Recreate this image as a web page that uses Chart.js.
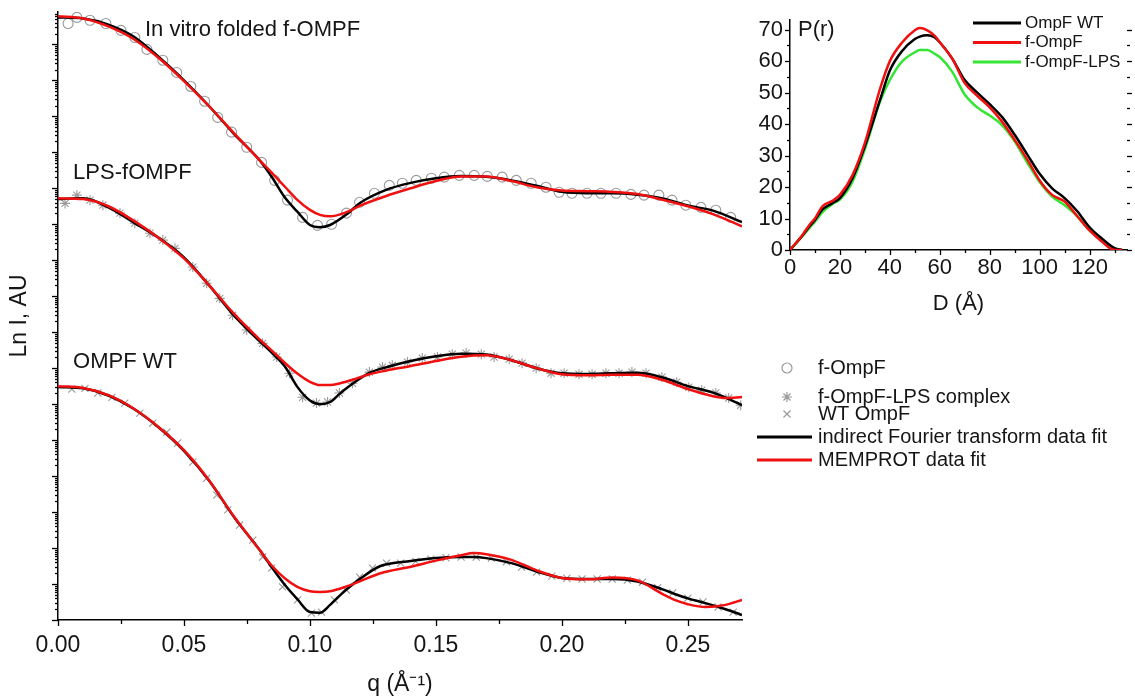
<!DOCTYPE html>
<html>
<head>
<meta charset="utf-8">
<script src="https://cdn.jsdelivr.net/npm/chart.js@4.4.0/dist/chart.umd.min.js"></script>
<style>
  html, body { margin: 0; padding: 0; background: #fff; }
  #wrap { position: relative; width: 1135px; height: 700px; overflow: hidden; }
  #mainChart { position: absolute; left: 0; top: 0; }
  #insetChart { position: absolute; left: 740px; top: 0; }
</style>
</head>
<body>
<div id="wrap">
  <canvas id="mainChart" width="1135" height="700"></canvas>
  <canvas id="insetChart" width="395" height="320"></canvas>
</div>
<script>
// ---------- SAXS curves: q (1/Å) vs ln I (offset per sample) ----------
const qTicks = [0, 0.05, 0.10, 0.15, 0.20, 0.25];
const qMinorTicks = [0.025, 0.075, 0.125, 0.175, 0.225];

// f-OmpF (circles)
const qTopPts = [0.0040, 0.0075, 0.0127, 0.0190, 0.0250, 0.0305, 0.0353, 0.0416, 0.0471, 0.0527, 0.0582, 0.0634, 0.0689, 0.0749, 0.0808, 0.0860, 0.0911, 0.0971, 0.1030, 0.1086, 0.1145, 0.1197, 0.1256, 0.1315, 0.1367, 0.1422, 0.1482, 0.1533, 0.1593, 0.1652, 0.1704, 0.1763, 0.1819, 0.1878, 0.1937, 0.1989, 0.2040, 0.2100, 0.2155, 0.2215, 0.2274, 0.2326, 0.2385, 0.2437, 0.2492, 0.2552, 0.2611, 0.2670];
const lnTopPts = [16.58, 16.75, 16.67, 16.58, 16.39, 16.19, 15.86, 15.56, 15.22, 14.83, 14.42, 13.97, 13.56, 13.14, 12.72, 12.22, 11.67, 11.19, 10.97, 11.00, 11.31, 11.61, 11.86, 12.08, 12.14, 12.22, 12.28, 12.31, 12.36, 12.36, 12.33, 12.31, 12.22, 12.14, 12.03, 11.89, 11.86, 11.86, 11.86, 11.86, 11.83, 11.81, 11.81, 11.67, 11.53, 11.47, 11.39, 11.19];
const qTopFit = [0, 0.01, 0.02, 0.03, 0.04, 0.05, 0.06, 0.07, 0.08, 0.085, 0.09, 0.095, 0.1, 0.104, 0.108, 0.115, 0.12, 0.13, 0.14, 0.15, 0.16, 0.17, 0.18, 0.19, 0.2, 0.21, 0.22, 0.23, 0.24, 0.25, 0.26, 0.2715];
const topIft = [16.75, 16.72, 16.55, 16.22, 15.65, 15.0, 14.28, 13.5, 12.78, 12.3, 11.75, 11.35, 10.98, 10.92, 10.98, 11.3, 11.6, 11.95, 12.15, 12.28, 12.34, 12.32, 12.22, 12.07, 11.9, 11.86, 11.86, 11.82, 11.72, 11.52, 11.38, 11.06];
const topMemprot = [16.78, 16.72, 16.5, 16.15, 15.62, 14.98, 14.28, 13.52, 12.78, 12.42, 12.05, 11.68, 11.4, 11.26, 11.22, 11.35, 11.52, 11.78, 12.0, 12.2, 12.33, 12.33, 12.2, 12.03, 11.94, 11.92, 11.9, 11.84, 11.68, 11.5, 11.28, 10.94];

// f-OmpF-LPS complex (asterisks)
const qLpsPts = [0.0028, 0.0075, 0.0127, 0.0178, 0.0246, 0.0305, 0.0365, 0.0416, 0.0464, 0.0535, 0.0590, 0.0642, 0.0693, 0.0749, 0.0812, 0.0868, 0.0919, 0.0971, 0.1026, 0.1070, 0.1117, 0.1169, 0.1236, 0.1288, 0.1327, 0.1387, 0.1446, 0.1506, 0.1565, 0.1620, 0.1680, 0.1731, 0.1791, 0.1842, 0.1898, 0.1957, 0.2009, 0.2068, 0.2120, 0.2175, 0.2227, 0.2278, 0.2334, 0.2397, 0.2456, 0.2504, 0.2555, 0.2611, 0.2662, 0.2710];
const lnLpsPts = [11.58, 11.81, 11.67, 11.53, 11.31, 11.03, 10.75, 10.56, 10.33, 9.81, 9.36, 8.94, 8.47, 8.06, 7.69, 7.31, 6.86, 6.19, 6.03, 6.06, 6.31, 6.58, 6.89, 7.03, 7.08, 7.17, 7.28, 7.31, 7.39, 7.42, 7.39, 7.31, 7.25, 7.14, 7.0, 6.86, 6.86, 6.83, 6.83, 6.86, 6.86, 6.89, 6.86, 6.75, 6.61, 6.47, 6.39, 6.31, 6.17, 5.97];
const qLpsFit = [0, 0.01, 0.02, 0.03, 0.04, 0.05, 0.06, 0.07, 0.08, 0.085, 0.09, 0.095, 0.1, 0.104, 0.108, 0.112, 0.118, 0.124, 0.13, 0.14, 0.15, 0.16, 0.17, 0.18, 0.19, 0.2, 0.21, 0.22, 0.23, 0.24, 0.25, 0.26, 0.265, 0.2715];
const lpsIft = [11.7, 11.72, 11.47, 11.05, 10.62, 10.08, 9.3, 8.45, 7.75, 7.42, 7.05, 6.48, 6.1, 6.0, 6.06, 6.3, 6.62, 6.88, 7.02, 7.2, 7.33, 7.4, 7.38, 7.22, 7.0, 6.86, 6.84, 6.86, 6.87, 6.74, 6.5, 6.32, 6.18, 5.97];
const lpsMemprot = [11.72, 11.7, 11.5, 11.1, 10.62, 10.05, 9.3, 8.5, 7.8, 7.48, 7.15, 6.85, 6.62, 6.53, 6.53, 6.58, 6.7, 6.84, 6.93, 7.06, 7.2, 7.32, 7.36, 7.22, 7.0, 6.83, 6.8, 6.82, 6.82, 6.67, 6.42, 6.22, 6.17, 6.2];

// WT OmpF (x marks)
const qWtPts = [0.0055, 0.0107, 0.0158, 0.0214, 0.0265, 0.0325, 0.0376, 0.0432, 0.0475, 0.0535, 0.0590, 0.0630, 0.0674, 0.0721, 0.0773, 0.0812, 0.0848, 0.0891, 0.0951, 0.1006, 0.1046, 0.1097, 0.1145, 0.1197, 0.1248, 0.1304, 0.136, 0.142, 0.148, 0.154, 0.16, 0.166, 0.172, 0.178, 0.184, 0.19, 0.196, 0.202, 0.208, 0.214, 0.22, 0.226, 0.232, 0.238, 0.244, 0.25, 0.256, 0.262, 0.268];
const lnWtPts = [6.42, 6.44, 6.31, 6.19, 6.03, 5.75, 5.47, 5.22, 4.92, 4.39, 3.94, 3.47, 3.06, 2.64, 2.22, 1.75, 1.44, 0.92, 0.56, 0.19, 0.22, 0.56, 0.83, 1.19, 1.44, 1.58, 1.58, 1.63, 1.69, 1.73, 1.75, 1.75, 1.72, 1.62, 1.47, 1.33, 1.22, 1.16, 1.14, 1.14, 1.14, 1.11, 1.05, 0.9, 0.75, 0.61, 0.5, 0.36, 0.22];
const qWtFit = [0, 0.01, 0.02, 0.03, 0.04, 0.05, 0.06, 0.07, 0.08, 0.085, 0.09, 0.095, 0.1, 0.104, 0.108, 0.114, 0.12, 0.128, 0.14, 0.15, 0.16, 0.165, 0.17, 0.18, 0.19, 0.2, 0.21, 0.22, 0.23, 0.24, 0.245, 0.25, 0.257, 0.265, 0.2715];
const wtIft = [6.48, 6.44, 6.24, 5.87, 5.35, 4.7, 3.87, 2.85, 1.95, 1.45, 0.98, 0.58, 0.22, 0.2, 0.42, 0.82, 1.15, 1.5, 1.64, 1.72, 1.75, 1.75, 1.72, 1.58, 1.35, 1.17, 1.14, 1.14, 1.07, 0.85, 0.72, 0.6, 0.47, 0.3, 0.14];
const wtMemprot = [6.5, 6.45, 6.25, 5.88, 5.36, 4.72, 3.88, 2.86, 1.95, 1.5, 1.16, 0.92, 0.8, 0.78, 0.8, 0.92, 1.08, 1.3, 1.48, 1.65, 1.8, 1.86, 1.83, 1.67, 1.38, 1.17, 1.13, 1.18, 1.1, 0.72, 0.55, 0.44, 0.36, 0.42, 0.56];

// ---------- inset: pair distance distribution P(r) ----------
const dTicks = [0, 20, 40, 60, 80, 100, 120];
const dMinorTicks = [10, 30, 50, 70, 90, 110, 130];
const pTicks = [0, 10, 20, 30, 40, 50, 60, 70];
const pMinorTicks = [5, 15, 25, 35, 45, 55, 65];
const dGrid = [0, 5, 8, 10, 13, 17, 20, 25, 30, 36, 40, 45, 50, 52, 55, 58, 60, 65, 70, 75, 80, 85, 90, 95, 100, 105, 110, 115, 120, 125, 130, 133];
const prWT = [0, 4.6, 7.7, 9.5, 12.9, 14.9, 16.5, 22.7, 33, 47.5, 57, 63.3, 67, 67.8, 68.2, 67.5, 66, 60.8, 54, 50, 46.3, 42.2, 36.6, 30.4, 24.2, 19.6, 16.5, 12.4, 7.2, 3.6, 0.6, 0];
const prF = [0, 4.8, 8.2, 10, 13.9, 15.6, 17.5, 23.7, 34, 51, 60, 66, 69.8, 70.5, 69.8, 68, 66, 60.8, 53, 49, 45.3, 40.7, 35, 28.8, 22.1, 17.5, 15.4, 10.8, 6.2, 2.6, 0, 0];
const prLPS = [0, 4.4, 7.2, 9, 12, 14.6, 16, 21.6, 32, 47, 54, 60, 62.8, 63.5, 63.5, 62.3, 61.3, 56.6, 49.4, 45.3, 42.7, 39.6, 34.5, 27.8, 21.6, 17, 14.2, 10.8, 6.2, 3.1, 0.5, 0];

const FONT = "'Liberation Sans', Arial, sans-serif";
const RED = '#f01010';
const GREEN = '#33e633';
const GREY = '#9a9a9a';
const TEXT = '#151515';
Chart.defaults.font.family = FONT;
Chart.defaults.color = TEXT;

function pts(xs, ys) {
    return xs.map((x, i) => ({ x: x, y: ys[i] }));
}

// log-style minor ticks on the ln I axis
const lnMajor = [];
const lnMinor = [];
for (let n = 0; n <= 16; n++) {
    lnMajor.push(n);
    for (let k = 2; k <= 9; k++) {
        const v = n + Math.log10(k);
        if (v < 16.9) lnMinor.push(v);
    }
}

// draws outward tick marks from the scales
function tickMarks(specs) {
    return {
        id: 'tickMarks',
        afterDraw(chart) {
            const ctx = chart.ctx;
            const area = chart.chartArea;
            ctx.save();
            ctx.strokeStyle = '#000';
            ctx.lineWidth = 1.3;
            specs.forEach(s => {
                const scale = chart.scales[s.axis];
                const draw = (v, len) => {
                    const p = Math.round(scale.getPixelForValue(v)) + 0.5;
                    ctx.beginPath();
                    if (s.side === 'bottom') {
                        ctx.moveTo(p, area.bottom);
                        ctx.lineTo(p, area.bottom + len);
                    } else if (s.side === 'left') {
                        ctx.moveTo(area.left, p);
                        ctx.lineTo(area.left - len, p);
                    } else {
                        ctx.moveTo(area.right, p);
                        ctx.lineTo(area.right + len, p);
                    }
                    ctx.stroke();
                };
                s.major.forEach(v => draw(v, s.majorLen));
                s.minor.forEach(v => draw(v, s.minorLen));
            });
            ctx.restore();
        }
    };
}

// sample labels inside the main plot
const annoText = ['In vitro folded f-OMPF', 'LPS-fOMPF', 'OMPF WT'];
const annoQ = [0.0345, 0.006, 0.006];
const annoLn = [16.39, 12.44, 7.17];

const mainDecor = {
    id: 'mainDecor',
    afterDraw(chart) {
        const ctx = chart.ctx;
        const xs = chart.scales.x, ys = chart.scales.y;
        ctx.save();
        ctx.fillStyle = TEXT;
        ctx.textBaseline = 'middle';
        ctx.font = '22px ' + FONT;
        annoText.forEach((t, i) => {
            ctx.fillText(t, xs.getPixelForValue(annoQ[i]), ys.getPixelForValue(annoLn[i]));
        });

        // legend block on the right
        const lx = 787, tx = 818;
        ctx.font = '20px ' + FONT;
        const marks = [
            { style: 'circle', y: 368, text: 'f-OmpF' },
            { style: 'star', y: 397, text: 'f-OmpF-LPS complex' },
            { style: 'crossRot', y: 414, text: 'WT OmpF' }
        ];
        marks.forEach(m => {
            ctx.strokeStyle = GREY;
            ctx.fillStyle = 'rgba(0,0,0,0)';
            ctx.lineWidth = 1.2;
            Chart.helpers.drawPoint(ctx, { pointStyle: m.style, radius: 5, borderWidth: 1.2, rotation: 0 }, lx, m.y);
            ctx.fillStyle = TEXT;
            ctx.fillText(m.text, tx, m.y);
        });
        const lines = [
            { color: '#000', y: 437, text: 'indirect Fourier transform data fit' },
            { color: RED, y: 460, text: 'MEMPROT data fit' }
        ];
        lines.forEach(l => {
            ctx.strokeStyle = l.color;
            ctx.lineWidth = 3;
            ctx.beginPath();
            ctx.moveTo(757, l.y);
            ctx.lineTo(812, l.y);
            ctx.stroke();
            ctx.fillStyle = TEXT;
            ctx.fillText(l.text, tx, l.y);
        });
        ctx.restore();
    }
};

const fitLine = (data, color) => ({
    data: data,
    borderColor: color,
    borderWidth: 2.5,
    pointRadius: 0,
    cubicInterpolationMode: 'monotone',
    fill: false
});
const markerSet = (data, style) => ({
    data: data,
    showLine: false,
    pointStyle: style,
    pointRadius: 5,
    pointBorderColor: GREY,
    pointBackgroundColor: 'rgba(0,0,0,0)',
    pointBorderWidth: 1.1
});

new Chart(document.getElementById('mainChart'), {
    type: 'line',
    data: {
        datasets: [
            fitLine(pts(qTopFit, topMemprot), RED),
            fitLine(pts(qLpsFit, lpsMemprot), RED),
            fitLine(pts(qWtFit, wtMemprot), RED),
            fitLine(pts(qTopFit, topIft), '#000'),
            fitLine(pts(qLpsFit, lpsIft), '#000'),
            fitLine(pts(qWtFit, wtIft), '#000'),
            markerSet(pts(qTopPts, lnTopPts), 'circle'),
            markerSet(pts(qLpsPts, lnLpsPts), 'star'),
            markerSet(pts(qWtPts, lnWtPts), 'crossRot')
        ]
    },
    options: {
        responsive: false,
        animation: false,
        layout: { padding: { top: 12, right: 393, left: 0, bottom: 0 } },
        plugins: { legend: { display: false }, tooltip: { enabled: false } },
        scales: {
            x: {
                type: 'linear',
                min: 0,
                max: 0.2715,
                grid: { display: false, drawTicks: false },
                border: { display: true, color: '#000', width: 1.5 },
                afterBuildTicks: s => { s.ticks = qTicks.map(v => ({ value: v })); },
                afterFit: s => { s.height = 80; },
                ticks: {
                    padding: 12,
                    autoSkip: false,
                    maxRotation: 0,
                    color: TEXT,
                    font: { size: 23 },
                    callback: v => v.toFixed(2)
                },
                title: { display: true, text: 'q (Å⁻¹)', color: TEXT, font: { size: 23 }, padding: { top: 0, bottom: 2 } }
            },
            y: {
                type: 'linear',
                min: 0,
                max: 16.9,
                grid: { display: false, drawTicks: false },
                border: { display: true, color: '#000', width: 1.5 },
                ticks: { display: false },
                afterFit: s => { s.width = 58; },
                title: { display: true, text: 'Ln I, AU', color: TEXT, font: { size: 23 }, padding: { top: 6, bottom: 0 } }
            }
        }
    },
    plugins: [
        tickMarks([
            { axis: 'x', side: 'bottom', major: qTicks, minor: qMinorTicks, majorLen: 6, minorLen: 4 },
            { axis: 'y', side: 'left', major: lnMajor, minor: lnMinor, majorLen: 6, minorLen: 3 }
        ]),
        mainDecor
    ]
});

// ---------- inset chart ----------
const insetNames = ['OmpF WT', 'f-OmpF', 'f-OmpF-LPS'];
const insetColors = ['#000', RED, GREEN];

const insetDecor = {
    id: 'insetDecor',
    afterDraw(chart) {
        const ctx = chart.ctx;
        ctx.save();
        ctx.fillStyle = TEXT;
        ctx.textBaseline = 'middle';
        ctx.font = '22px ' + FONT;
        ctx.fillText('P(r)', 58, 30);
        ctx.font = '17px ' + FONT;
        insetNames.forEach((name, i) => {
            const y = 23 + i * 19.5;
            ctx.strokeStyle = insetColors[i];
            ctx.lineWidth = 3;
            ctx.beginPath();
            ctx.moveTo(233, y);
            ctx.lineTo(281, y);
            ctx.stroke();
            ctx.fillText(name, 285, y);
        });
        ctx.restore();
    }
};

new Chart(document.getElementById('insetChart'), {
    type: 'line',
    data: {
        datasets: [
            fitLine(pts(dGrid, prF), RED),
            fitLine(pts(dGrid, prWT), '#000'),
            fitLine(pts(dGrid, prLPS), GREEN)
        ]
    },
    options: {
        responsive: false,
        animation: false,
        layout: { padding: { top: 13, right: 8, left: 0, bottom: 0 } },
        plugins: { legend: { display: false }, tooltip: { enabled: false } },
        scales: {
            x: {
                type: 'linear',
                min: 0,
                max: 135,
                grid: { display: false, drawTicks: false },
                border: { display: true, color: '#000', width: 1.5 },
                afterBuildTicks: s => { s.ticks = dTicks.map(v => ({ value: v })); },
                afterFit: s => { s.height = 70; },
                ticks: { padding: 5, autoSkip: false, maxRotation: 0, color: TEXT, font: { size: 22 } },
                title: { display: true, text: 'D (Å)', color: TEXT, font: { size: 22 }, padding: { top: 0, bottom: 3 } }
            },
            y: {
                type: 'linear',
                min: 0,
                max: 73,
                grid: { display: false, drawTicks: false },
                border: { display: true, color: '#000', width: 1.5 },
                afterBuildTicks: s => { s.ticks = pTicks.map(v => ({ value: v })); },
                afterFit: s => { s.width = 50; },
                ticks: { padding: 7, autoSkip: false, color: TEXT, font: { size: 22 } }
            }
        }
    },
    plugins: [
        tickMarks([
            { axis: 'x', side: 'bottom', major: dTicks, minor: dMinorTicks, majorLen: 5, minorLen: 3 },
            { axis: 'y', side: 'left', major: pTicks, minor: pMinorTicks, majorLen: 5, minorLen: 3 },
            { axis: 'y', side: 'right', major: pTicks, minor: pMinorTicks, majorLen: 5, minorLen: 3 }
        ]),
        insetDecor
    ]
});
</script>
</body>
</html>
